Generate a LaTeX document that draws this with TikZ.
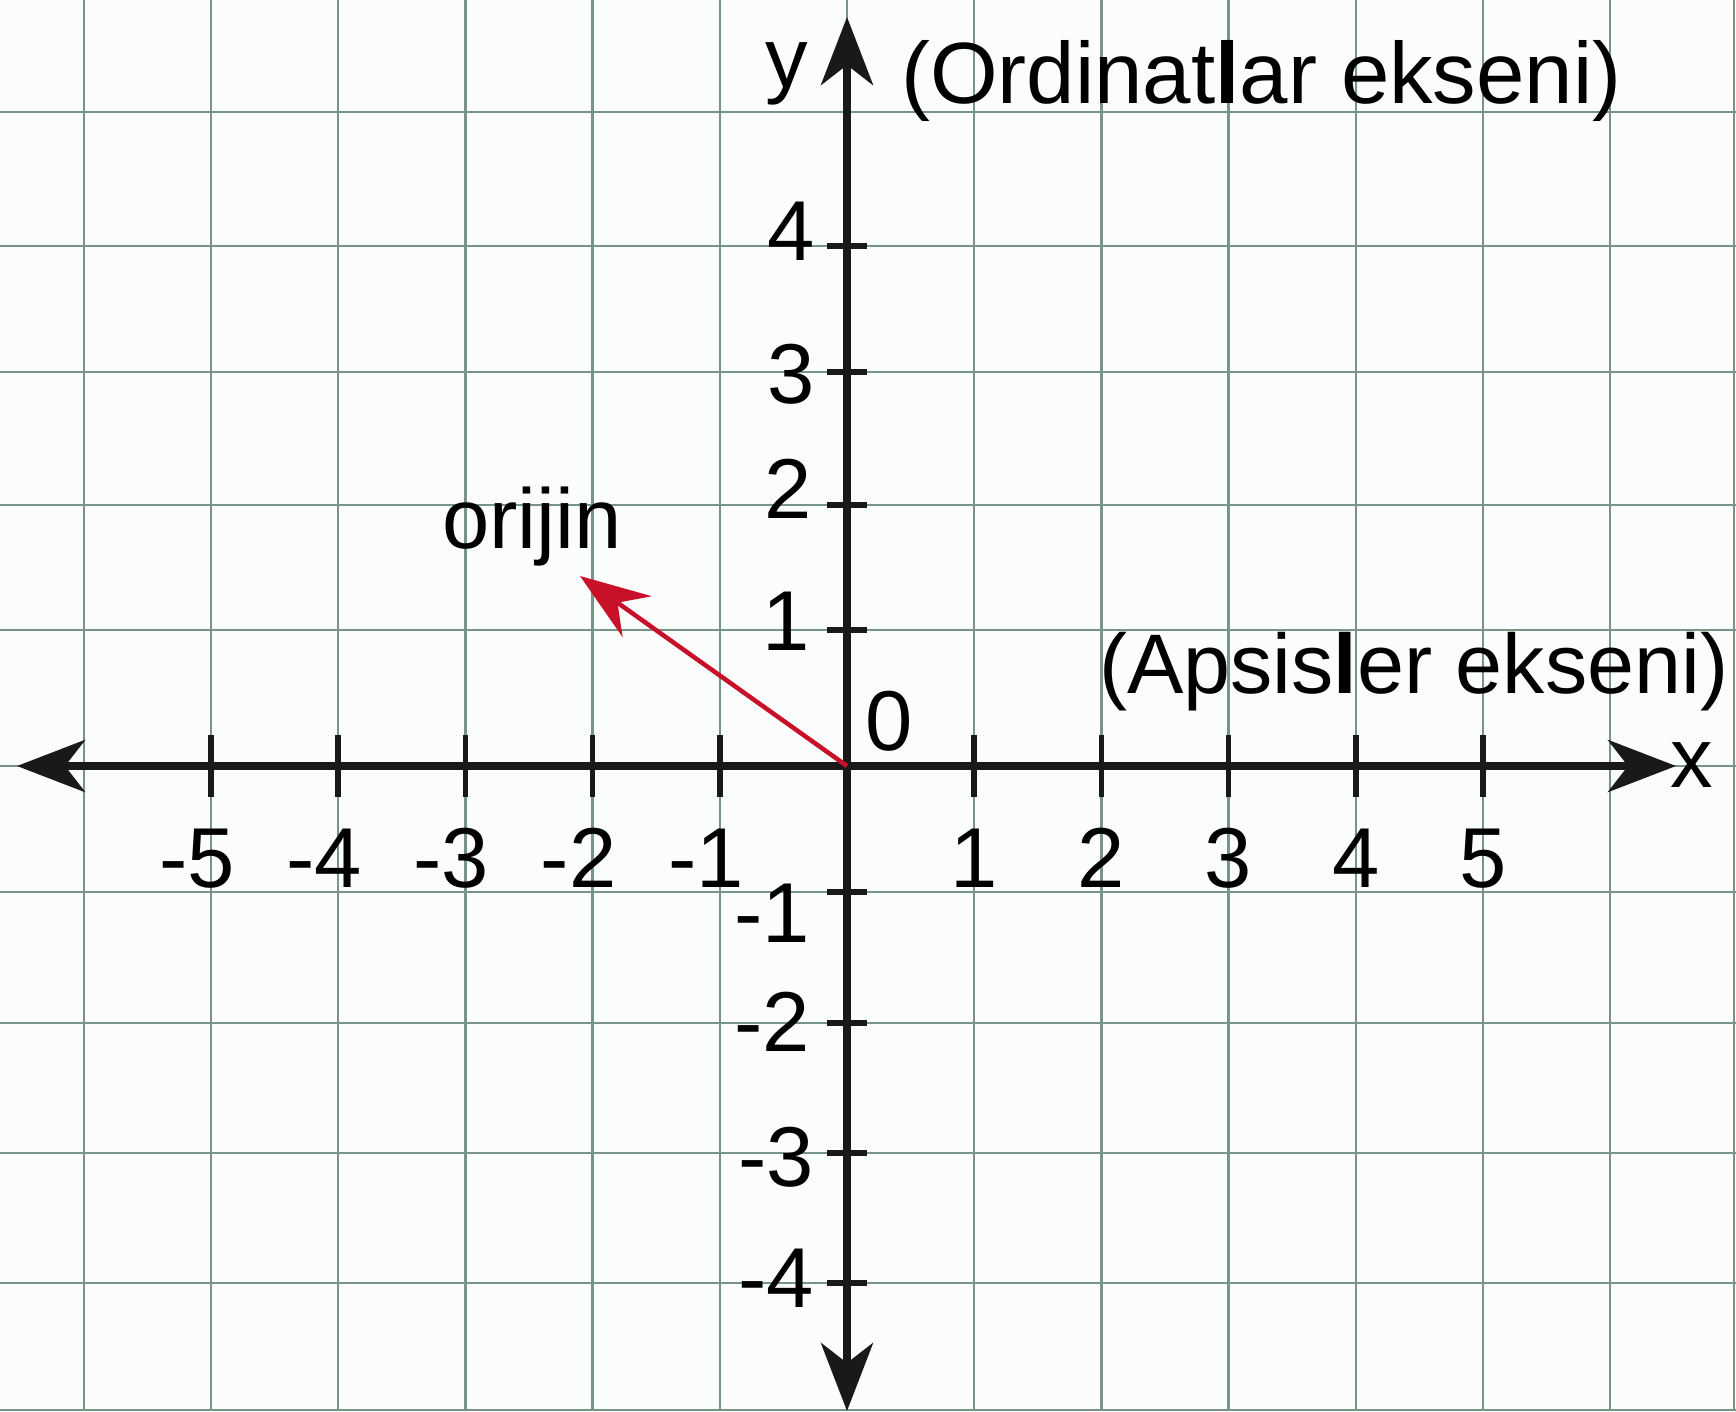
\documentclass[tikz,border=0pt]{standalone}
\usepackage{fontspec}
\setmainfont{Liberation Sans}
\usetikzlibrary{arrows.meta}
\definecolor{gridc}{RGB}{120,148,135}
\definecolor{arrred}{RGB}{200,16,40}
\definecolor{paper}{RGB}{250,253,251}
\begin{document}
\begin{tikzpicture}[x=1pt,y=-1pt,
  lbl/.style={inner sep=0pt, font=\fontsize{85}{100}\selectfont},
  axisline/.style={line width=7.5pt, black!90},
  tickline/.style={line width=5.5pt, black!90},
  gridline/.style={line width=2.5pt, gridc},
  bigtip/.tip={Stealth[length=68pt,width=52pt,inset=20pt]},
  redtip/.tip={Stealth[length=70pt,width=50pt,inset=24pt]}]
\useasboundingbox (0,0) rectangle (1736,1411);
\fill[paper] (0,0) rectangle (1736,1411);
% grid
\foreach \k in {-6,...,6} {
  \draw[gridline] ({847+127.2*\k},0) -- ({847+127.2*\k},1411);
}
\draw[gridline] (1734,0) -- (1734,1411);
\foreach \yy in {112,246,372,505,630,766,892,1023,1153,1283,1410} {
  \draw[gridline] (0,\yy) -- (1736,\yy);
}
% axes
\coordinate (O) at (847,766);
\coordinate (xl) at (17,766);
\coordinate (xr) at (1676,766);
\coordinate (yt) at (847,17);
\coordinate (yb) at (847,1411);
\draw[axisline, bigtip-bigtip] (xl) -- (xr);
\draw[axisline, bigtip-bigtip] (yb) -- (yt);
% x ticks and labels
\foreach \k in {1,...,5} {
  \draw[tickline] ({847+127.2*\k},735) -- ({847+127.2*\k},797);
  \draw[tickline] ({847-127.2*\k},735) -- ({847-127.2*\k},797);
  \node[lbl, anchor=base] (xp\k) at ({847+127.2*\k},887) {\k};
  \node[lbl, anchor=base east] (xn\k) at ({847-127.2*\k+24},887) {-\k};
}
% y ticks
\foreach \yy in {246,372,505,630,892,1023,1153,1283} {
  \draw[tickline] (827,\yy) -- (867,\yy);
}
\node[lbl, anchor=east] (y4) at (815,231) {4};
\node[lbl, anchor=east] (y3) at (815,374) {3};
\node[lbl, anchor=east] (y2) at (812,489) {2};
\node[lbl, anchor=east] (y1) at (810,621) {1};
\node[lbl, anchor=east] (ym1) at (810,913) {-1};
\node[lbl, anchor=east] (ym2) at (810,1022) {-2};
\node[lbl, anchor=east] (ym3) at (814,1157) {-3};
\node[lbl, anchor=east] (ym4) at (814,1278) {-4};
% origin label
\node[lbl, anchor=base west] (zero) at (865,750) {0};
% red arrow
\coordinate (rt) at (580,576);
\draw[line width=4.5pt, arrred, -redtip] (O) -- (rt);
\node[lbl, anchor=base west] (orijin) at (442,548) {orijin};
% axis names
\node[lbl, anchor=base] (ylab) at (787,87) {y};
\node[lbl, anchor=base] (xlab) at (1692,787) {x};
\node[lbl, anchor=base west, font=\fontsize{87}{100}\selectfont] (ord) at (901,103) {(Ordinat\textbf{l}ar ekseni)};
\node[lbl, anchor=base west, font=\fontsize{84.5}{100}\selectfont] (aps) at (1099,693) {(Apsis\textbf{l}er ekseni)};
\end{tikzpicture}
\end{document}
